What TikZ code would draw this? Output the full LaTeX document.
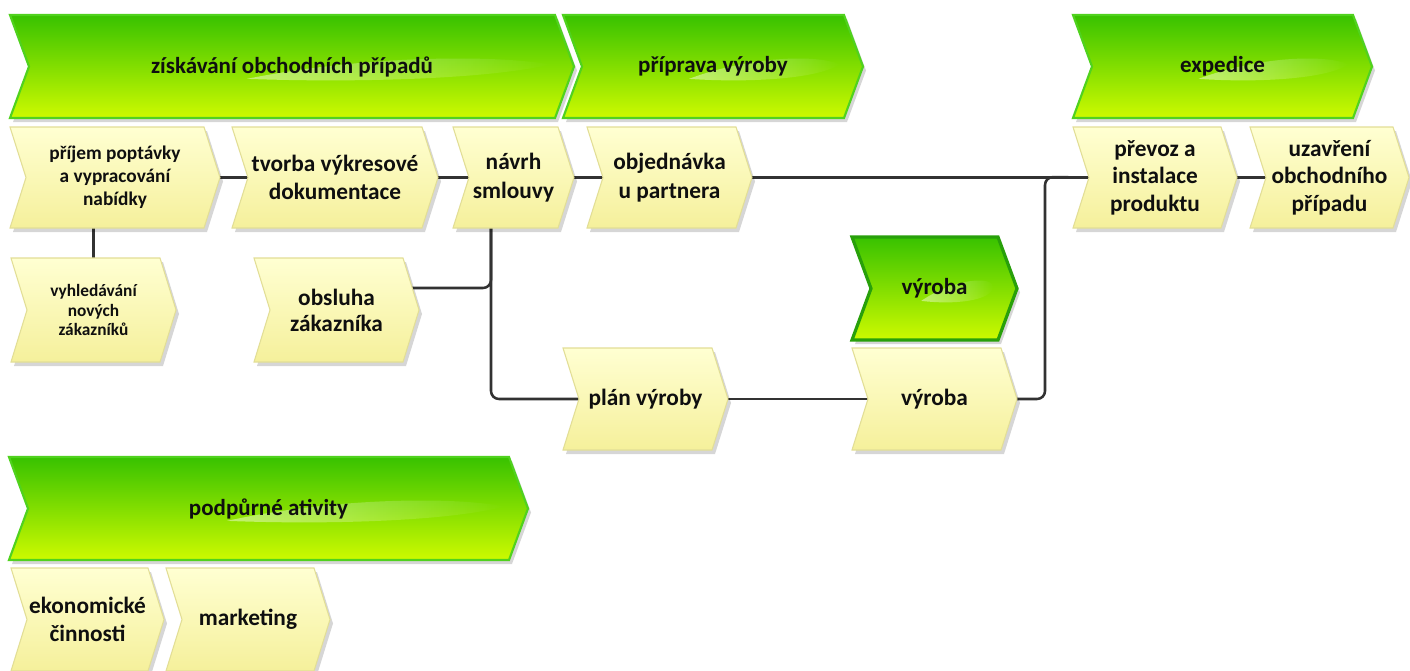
\documentclass[tikz,border=0pt]{standalone}
\usepackage{fontspec}
\setmainfont{Carlito}
\usetikzlibrary{calc,fadings}
\pgfdeclarelayer{bgfill}
\pgfdeclarelayer{conn}
\pgfdeclarelayer{shp}
\pgfsetlayers{bgfill,conn,shp,main}
\definecolor{ytop}{RGB}{255,255,210}
\definecolor{ybot}{RGB}{245,240,155}
\definecolor{yedge}{RGB}{226,222,150}
\definecolor{gtop}{RGB}{56,194,0}
\definecolor{gbot}{RGB}{205,250,0}
\definecolor{gedge}{RGB}{80,210,30}
\definecolor{gdark}{RGB}{40,160,10}
\definecolor{lineclr}{RGB}{50,50,50}
\definecolor{txt}{RGB}{15,15,15}
\def\depg{19}
\def\depd{19}
\def\depy{16}
\tikzset{
  holder/.style={inner sep=0pt, outer sep=0pt, align=center, text=txt},
  gtext/.style={font=\fontsize{17.25}{21}\selectfont\bfseries},
  dtext/.style={gtext},
  ytext/.style={font=\fontsize{17.5}{21.5}\selectfont\bfseries},
  gfill/.style={top color=gtop, bottom color=gbot, draw=gedge, line width=1.6pt},
  dfill/.style={top color=gtop, bottom color=gbot, draw=gdark, line width=2.4pt},
  yfill/.style={top color=ytop, bottom color=ybot, draw=yedge, line width=0.8pt},
  shadowfill/.style={fill=black, opacity=0.16},
  glossfill/.style={fill=white, opacity=0.45, path fading=east},
  conn/.style={draw=lineclr, line width=1.9pt, rounded corners=6pt},
}
% #1 options, #2 name, #3 x1, #4 y1, #5 x2, #6 y2, #7 kind (g/d/y), #8 text
\newcommand\vac[8][]{%
  \node[holder,#7text,#1,minimum width={(#5-#3)*0.75pt},minimum height={(#6-#4)*0.75pt}] (#2) at ({(#3+#5)/2},{(#4+#6)/2}) {#8};
  \pgfmathsetmacro\dd{\csname dep#7\endcsname}
  \begin{pgfonlayer}{shp}
    \fill[shadowfill] ($(#2.north west)+(3,4)$) -- ($(#2.north east)+(3-\dd,4)$) -- ($(#2.east)+(3,4)$) -- ($(#2.south east)+(3-\dd,4)$) -- ($(#2.south west)+(3,4)$) -- ($(#2.west)+(3+\dd,4)$) -- cycle;
    \path[#7fill] (#2.north west) -- ($(#2.north east)+(-\dd,0)$) -- (#2.east) -- ($(#2.south east)+(-\dd,0)$) -- (#2.south west) -- ($(#2.west)+(\dd,0)$) -- cycle;
  \end{pgfonlayer}
  \coordinate (#2-in) at ($(#2.west)+(\dd,0)$);
}
% glossy lens on a green header: #1 x1, #2 y1, #3 x2, #4 y2
\newcommand\gloss[4]{%
  \begin{pgfonlayer}{shp}
    \fill[glossfill] ({#1+0.42*(#3-#1)},{#2+0.62*(#4-#2)})
      .. controls ({#1+0.62*(#3-#1)},{#2+0.40*(#4-#2)}) and ({#1+0.85*(#3-#1)},{#2+0.38*(#4-#2)}) .. ({#3-24},{#2+0.48*(#4-#2)})
      .. controls ({#1+0.85*(#3-#1)},{#2+0.62*(#4-#2)}) and ({#1+0.62*(#3-#1)},{#2+0.66*(#4-#2)}) .. cycle;
  \end{pgfonlayer}
}
\begin{document}
\begin{tikzpicture}[x=0.75pt,y=-0.75pt]
\begin{pgfonlayer}{bgfill}
\fill[white] (0,0) rectangle (1410,671);
\end{pgfonlayer}
\useasboundingbox (0,0) rectangle (1410,671);
% green headers
\vac{g1}{10}{15}{574}{118}{g}{získávání obchodních případů}
\gloss{10}{15}{574}{118}
\vac{g2}{563}{15}{863}{118}{g}{příprava výroby}
\gloss{563}{15}{863}{118}
\vac{g3}{1073}{15}{1372}{118}{g}{expedice}
\gloss{1073}{15}{1372}{118}
\vac{g4}{852}{237}{1017}{340}{d}{výroba}
\gloss{852}{237}{1017}{340}
\vac{g5}{9}{457}{528}{560}{g}{podpůrné ativity}
\gloss{9}{457}{528}{560}
% yellow functions
\vac[font=\fontsize{14.5}{17.25}\selectfont\bfseries]{prijem}{10}{127}{220}{228}{y}{příjem poptávky\\a vypracování\\nabídky}
\vac{tvorba}{232}{127}{438}{228}{y}{tvorba výkresové\\dokumentace}
\vac{navrh}{453}{127}{574}{228}{y}{návrh\\smlouvy}
\vac{objed}{587}{127}{752}{228}{y}{objednávka\\u partnera}
\vac[font=\fontsize{17.5}{20.6}\selectfont\bfseries]{prevoz}{1073}{127}{1237}{228}{y}{převoz a\\instalace\\produktu}
\vac[font=\fontsize{17.5}{20.6}\selectfont\bfseries]{uzav}{1250}{127}{1409}{228}{y}{uzavření\\obchodního\\případu}
\vac[font=\fontsize{13}{14.5}\selectfont\bfseries]{vyhled}{11}{258}{176}{362}{y}{vyhledávání\\nových\\zákazníků}
\vac[font=\fontsize{17.5}{19.5}\selectfont\bfseries]{obsluha}{254}{258}{419}{362}{y}{obsluha\\zákazníka}
\vac{plan}{563}{348}{728}{450}{y}{plán výroby}
\vac{vyroba}{852}{348}{1017}{450}{y}{výroba}
\vac{ekon}{11}{568}{164}{671}{y}{ekonomické\\činnosti}
\vac{mark}{166}{568}{330}{671}{y}{marketing}
% junction coordinates
\coordinate (jn) at (491,228);
\coordinate (jv) at (1045,177);
% connectors
\begin{pgfonlayer}{conn}
\draw[conn] (prijem.east) -- (tvorba-in);
\draw[conn] (tvorba.east) -- (navrh-in);
\draw[conn] (navrh.east) -- (objed-in);
\draw[conn] (objed.east) -- (prevoz-in);
\draw[conn] (prevoz.east) -- (uzav-in);
\draw[conn] (vyhled.north) -- (vyhled.north |- prijem.south);
\draw[conn] (navrh.south -| jn) -- (jn |- plan.west) -- (plan-in);
\draw[conn] ([shift={(-12,-22)}]obsluha.east) -- ($(obsluha.east -| jn)+(0,-22)$) -- (navrh.south -| jn);
\draw[conn] (plan.east) -- (vyroba-in);
\draw[conn] (vyroba.east) -- (jv |- vyroba.east) -- (jv) -- (prevoz-in);
\end{pgfonlayer}
\end{tikzpicture}
\end{document}
